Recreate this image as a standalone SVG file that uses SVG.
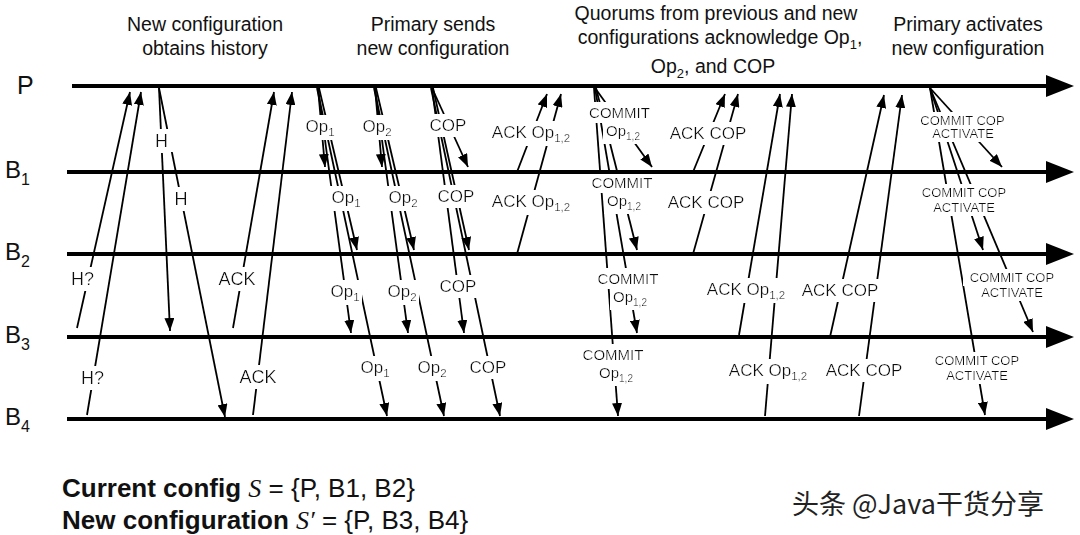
<svg xmlns="http://www.w3.org/2000/svg" width="1080" height="535" viewBox="0 0 1080 535">
<style>
text{font-family:"Liberation Sans",Arial,sans-serif;fill:#111}
.hd{font-size:19.5px;text-anchor:middle}
.nm{font-size:24px}
.tl{stroke:#000;stroke-width:4;fill:none}
.th{fill:#000}
.m{stroke:#000;stroke-width:1.8;fill:none;marker-end:url(#a)}
.lb{font-size:17px;text-anchor:middle;filter:url(#bg)}
.l1{font-size:18px}
.cm{font-size:15px}
.ca{font-size:13px}
.sb{font-size:11.5px}
.sc{font-size:10px}
.ft{font-size:26px}
.gap{fill:#fff}
</style>
<defs>
<marker id="a" markerUnits="userSpaceOnUse" markerWidth="13" markerHeight="10" refX="13" refY="5" orient="auto">
<path d="M0,0 L13,5 L0,10 Z" fill="#000"/>
</marker>
<filter id="bg" x="-0.07" y="-0.06" width="1.14" height="1.12">
<feFlood flood-color="#fff"/>
<feComposite in="SourceGraphic" operator="over"/>
</filter>
</defs>
<rect width="1080" height="535" fill="#fff"/>

<g id="headers">
<text class="hd" x="205" y="31">New configuration</text>
<text class="hd" x="205" y="55">obtains history</text>
<text class="hd" x="433" y="31">Primary sends</text>
<text class="hd" x="433" y="55">new configuration</text>
<text class="hd" x="716" y="20">Quorums from previous and new</text>
<text class="hd" x="720" y="44">configurations acknowledge Op<tspan font-size="13" dy="5">1</tspan><tspan dy="-5">,</tspan></text>
<text class="hd" x="713" y="73">Op<tspan font-size="13" dy="5">2</tspan><tspan dy="-5">, and COP</tspan></text>
<text class="hd" x="968" y="31">Primary activates</text>
<text class="hd" x="968" y="55">new configuration</text>
</g>

<g id="connectors">
<path class="m" d="M77,328 L130,92"/>
<path class="m" d="M87,415 L141,92"/>
<path class="m" d="M159,88 L170,331"/>
<path class="m" d="M159,88 L225,417"/>
<path class="m" d="M233,328 L274,92"/>
<path class="m" d="M253,415 L292,92"/>
<path class="m" d="M318,88 L325,167"/>
<path class="m" d="M319,88 L357,250"/>
<path class="m" d="M318,88 L351,333"/>
<path class="m" d="M317,88 L387,416"/>
<path class="m" d="M375,88 L382,167"/>
<path class="m" d="M376,88 L414,250"/>
<path class="m" d="M375,88 L408,333"/>
<path class="m" d="M374,88 L444,416"/>
<path class="m" d="M432,88 L468,167"/>
<path class="m" d="M433,88 L469,250"/>
<path class="m" d="M432,88 L464,333"/>
<path class="m" d="M431,88 L500,416"/>
<path class="m" d="M517,172 L547,94"/>
<path class="m" d="M517,254 L561,94"/>
<path class="m" d="M595,88 L652,167"/>
<path class="m" d="M596,88 L637,250"/>
<path class="m" d="M595,88 L637,333"/>
<path class="m" d="M594,88 L618,416"/>
<path class="m" d="M693,172 L725,94"/>
<path class="m" d="M693,254 L738,94"/>
<path class="m" d="M739,335 L780,94"/>
<path class="m" d="M765,416 L792,94"/>
<path class="m" d="M830,337 L884,95"/>
<path class="m" d="M859,416 L902,95"/>
<path class="m" d="M930,88 L1002,167"/>
<path class="m" d="M930,88 L983,250"/>
<path class="m" d="M930,88 L1033,332"/>
<path class="m" d="M930,88 L985,415"/>
</g>

<g id="labels">
<rect class="gap" x="151" y="129" width="24" height="23"/>
<rect class="gap" x="172" y="187" width="19" height="23"/>
<text class="lb l1" x="82.5" y="285">H?</text>
<text class="lb l1" x="92.5" y="384">H?</text>
<text class="lb l1" x="161.5" y="147">H</text>
<text class="lb l1" x="181" y="205">H</text>
<text class="lb l1" x="237" y="285">ACK</text>
<text class="lb l1" x="258" y="383">ACK</text>

<text class="lb" x="320" y="132">Op<tspan class="sb" dy="4">1</tspan></text>
<text class="lb" x="346" y="203">Op<tspan class="sb" dy="4">1</tspan></text>
<text class="lb" x="345" y="297">Op<tspan class="sb" dy="4">1</tspan></text>
<text class="lb" x="375" y="373">Op<tspan class="sb" dy="4">1</tspan></text>
<text class="lb" x="377" y="132">Op<tspan class="sb" dy="4">2</tspan></text>
<text class="lb" x="403" y="203">Op<tspan class="sb" dy="4">2</tspan></text>
<text class="lb" x="402" y="297">Op<tspan class="sb" dy="4">2</tspan></text>
<text class="lb" x="432" y="373">Op<tspan class="sb" dy="4">2</tspan></text>
<text class="lb" x="448" y="131">COP</text>
<text class="lb" x="456" y="202">COP</text>
<text class="lb" x="458" y="292">COP</text>
<text class="lb" x="488" y="373">COP</text>

<text class="lb" x="531" y="138">ACK Op<tspan class="sb" dy="4">1,2</tspan></text>
<text class="lb" x="531" y="207">ACK Op<tspan class="sb" dy="4">1,2</tspan></text>

<text class="lb cm" x="619.5" y="118">COMMIT</text>
<text class="lb cm" x="623" y="136">Op<tspan class="sc" dy="4">1,2</tspan></text>
<text class="lb cm" x="622" y="188">COMMIT</text>
<text class="lb cm" x="624" y="206">Op<tspan class="sc" dy="4">1,2</tspan></text>
<text class="lb cm" x="628" y="284">COMMIT</text>
<text class="lb cm" x="630" y="302">Op<tspan class="sc" dy="4">1,2</tspan></text>
<text class="lb cm" x="613" y="360">COMMIT</text>
<text class="lb cm" x="616" y="378">Op<tspan class="sc" dy="4">1,2</tspan></text>

<text class="lb" x="708" y="139">ACK COP</text>
<text class="lb" x="706" y="208">ACK COP</text>
<text class="lb" x="746" y="295">ACK Op<tspan class="sb" dy="4">1,2</tspan></text>
<text class="lb" x="768" y="376">ACK Op<tspan class="sb" dy="4">1,2</tspan></text>
<text class="lb" x="840" y="296">ACK COP</text>
<text class="lb" x="864" y="376">ACK COP</text>

<text class="lb ca" x="962.5" y="125">COMMIT COP</text>
<text class="lb ca" x="963" y="138">ACTIVATE</text>
<text class="lb ca" x="964" y="197">COMMIT COP</text>
<text class="lb ca" x="964" y="212">ACTIVATE</text>
<text class="lb ca" x="1012" y="282">COMMIT COP</text>
<text class="lb ca" x="1012" y="297">ACTIVATE</text>
<text class="lb ca" x="977" y="365">COMMIT COP</text>
<text class="lb ca" x="977" y="380">ACTIVATE</text>
</g>

<g id="P">
<line class="tl" x1="72" y1="86" x2="1050" y2="86"/>
<polygon class="th" points="1046,75 1074,86 1046,97"/>
<text x="17" y="94" font-size="25">P</text>
</g>
<g id="B1">
<line class="tl" x1="67" y1="172" x2="1050" y2="172"/>
<polygon class="th" points="1046,161 1074,172 1046,183"/>
<text class="nm" x="5" y="178">B<tspan font-size="16" dy="7">1</tspan></text>
</g>
<g id="B2">
<line class="tl" x1="67" y1="254" x2="1050" y2="254"/>
<polygon class="th" points="1046,243 1074,254 1046,265"/>
<text class="nm" x="5" y="260">B<tspan font-size="16" dy="7">2</tspan></text>
</g>
<g id="B3">
<line class="tl" x1="67" y1="337" x2="1050" y2="337"/>
<polygon class="th" points="1046,326 1074,337 1046,348"/>
<text class="nm" x="5" y="343">B<tspan font-size="16" dy="7">3</tspan></text>
</g>
<g id="B4">
<line class="tl" x1="67" y1="419" x2="1050" y2="419"/>
<polygon class="th" points="1046,408 1074,419 1046,430"/>
<text class="nm" x="5" y="425">B<tspan font-size="16" dy="7">4</tspan></text>
</g>

<g id="legend">
<text class="ft" x="62" y="497"><tspan font-weight="bold">Current config</tspan> <tspan font-family="Liberation Serif" font-style="italic">S</tspan> = {P, B1, B2}</text>
<text class="ft" x="62" y="529"><tspan font-weight="bold">New configuration</tspan> <tspan font-family="Liberation Serif" font-style="italic">S′</tspan> = {P, B3, B4}</text>
</g>

<g id="watermark">
<text x="792" y="514" font-size="27" style="font-family:'Noto Sans CJK SC','Liberation Sans',sans-serif;fill:#222">头条 @Java干货分享</text>
</g>
</svg>
